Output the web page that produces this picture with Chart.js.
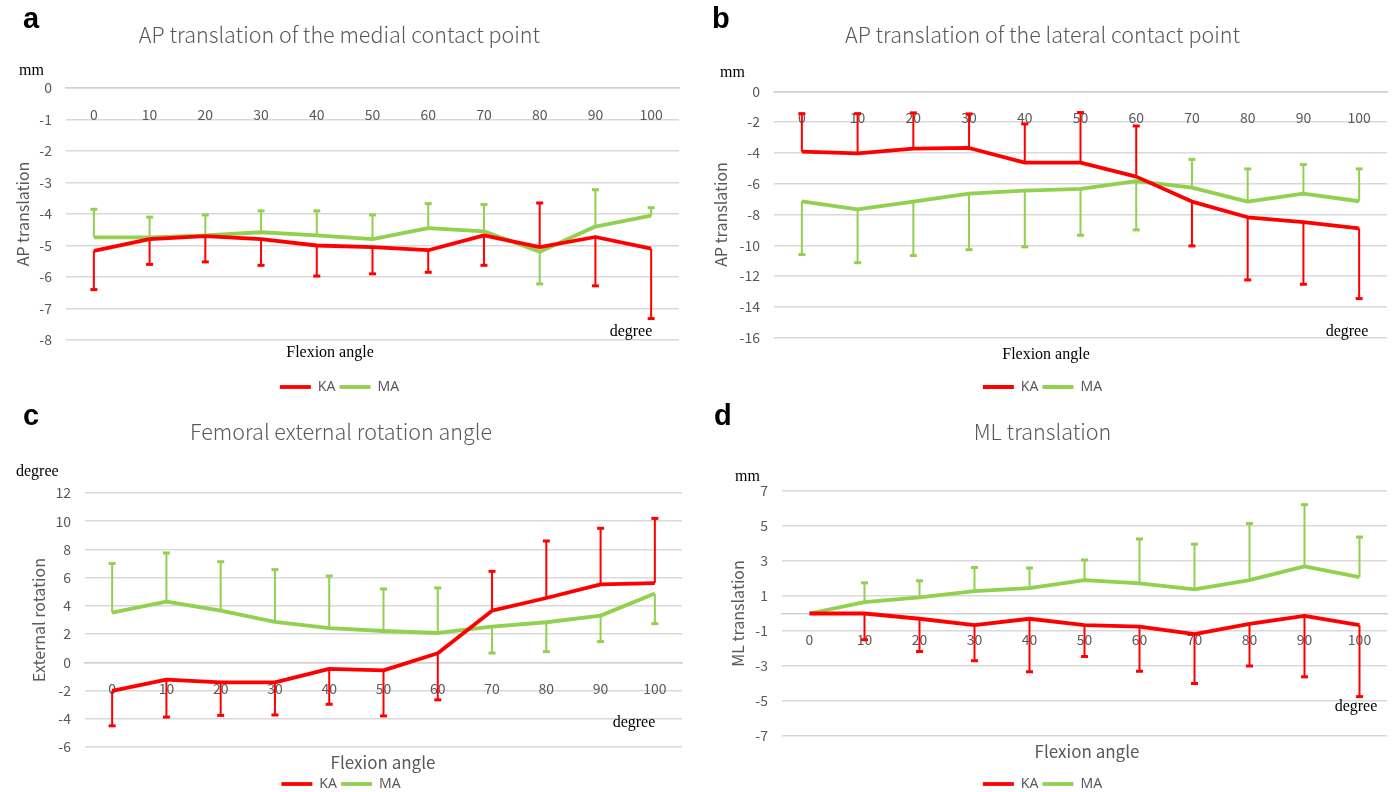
<!DOCTYPE html>
<html>
<head>
<meta charset="utf-8">
<script src="https://cdn.jsdelivr.net/npm/chart.js@4.4.0/dist/chart.umd.min.js"></script>
<style>
  html, body { margin: 0; padding: 0; background: #fff; }
  body { width: 1397px; height: 792px; position: relative; overflow: hidden; }
  canvas { position: absolute; }
</style>
</head>
<body>
<canvas id="chart-a" width="698" height="410" style="left:0;top:0"></canvas>
<canvas id="chart-b" width="698" height="410" style="left:698px;top:0"></canvas>
<canvas id="chart-c" width="698" height="410" style="left:0;top:396px"></canvas>
<canvas id="chart-d" width="698" height="410" style="left:698px;top:396px"></canvas>
<script>
// flexion angle categories (degree)
const flexionAngles = ['0', '10', '20', '30', '40', '50', '60', '70', '80', '90', '100'];

// a: AP translation of the medial contact point (mm), mean and SD bar end
const medialKA = [-5.17, -4.8, -4.7, -4.8, -5.0, -5.05, -5.15, -4.68, -5.05, -4.73, -5.1];
const medialKAErr = [-6.4, -5.6, -5.52, -5.63, -5.97, -5.9, -5.85, -5.63, -3.65, -6.28, -7.32];
const medialMA = [-4.74, -4.74, -4.68, -4.58, -4.68, -4.8, -4.45, -4.55, -5.2, -4.4, -4.05];
const medialMAErr = [-3.85, -4.1, -4.03, -3.9, -3.9, -4.03, -3.67, -3.7, -6.22, -3.23, -3.8];

// b: AP translation of the lateral contact point (mm)
const lateralKA = [-3.92, -4.03, -3.72, -3.68, -4.63, -4.63, -5.54, -7.16, -8.18, -8.5, -8.9];
const lateralKAErr = [-1.45, -1.45, -1.4, -1.47, -2.12, -1.38, -2.25, -10.04, -12.25, -12.53, -13.46];
const lateralMA = [-7.14, -7.66, -7.16, -6.64, -6.45, -6.34, -5.84, -6.25, -7.16, -6.64, -7.14];
const lateralMAErr = [-10.6, -11.13, -10.67, -10.28, -10.1, -9.35, -9.0, -4.42, -5.04, -4.76, -5.04];

// c: femoral external rotation angle (degree)
const rotationKA = [-2.03, -1.23, -1.42, -1.42, -0.47, -0.57, 0.64, 3.66, 4.56, 5.53, 5.62];
const rotationKAErr = [-4.5, -3.88, -3.76, -3.73, -2.97, -3.8, -2.66, 6.45, 8.6, 9.5, 10.2];
const rotationMA = [3.52, 4.3, 3.66, 2.86, 2.43, 2.22, 2.08, 2.53, 2.84, 3.31, 4.87];
const rotationMAErr = [7.0, 7.75, 7.13, 6.57, 6.12, 5.2, 5.27, 0.66, 0.76, 1.47, 2.74];

// d: ML translation (mm)
const mlKA = [0, 0, -0.3, -0.67, -0.3, -0.67, -0.75, -1.18, -0.59, -0.13, -0.67];
const mlKAErr = [0, -1.5, -2.17, -2.7, -3.33, -2.46, -3.3, -4.0, -3.0, -3.62, -4.75];
const mlMA = [0, 0.65, 0.92, 1.28, 1.45, 1.91, 1.72, 1.38, 1.91, 2.69, 2.08];
const mlMAErr = [0, 1.75, 1.87, 2.63, 2.6, 3.06, 4.26, 3.96, 5.14, 6.22, 4.37];

const KA_COLOR = '#ff0000';
const MA_COLOR = '#92d050';
const GREY = '#595959';
const SANS = "'Noto Sans CJK JP', 'Noto Sans', sans-serif";
const SERIF16 = "16px 'Liberation Serif', 'DejaVu Serif', serif";
const SANS17 = "17px 'Noto Sans CJK JP', 'Noto Sans', sans-serif";
const LETTER = "bold 29px 'Liberation Sans', Arial, sans-serif";

// SD bars: one-sided line from the mean to the bar end, with a cap
const errorBarPlugin = {
    id: 'errorBars',
    beforeDatasetsDraw(chart) {
        const ctx = chart.ctx;
        const yScale = chart.scales.y;
        chart.data.datasets.forEach((ds, i) => {
            const meta = chart.getDatasetMeta(i);
            if (!ds.errEnd || meta.hidden) return;
            ctx.save();
            ctx.strokeStyle = ds.borderColor;
            meta.data.forEach((pt, j) => {
                const end = ds.errEnd[j];
                if (end == null || end === ds.data[j]) return;
                const y0 = yScale.getPixelForValue(ds.data[j]);
                const y1 = yScale.getPixelForValue(end);
                ctx.lineWidth = 2;
                ctx.beginPath();
                ctx.moveTo(pt.x, y0);
                ctx.lineTo(pt.x, y1);
                ctx.stroke();
                ctx.lineWidth = 3;
                ctx.beginPath();
                ctx.moveTo(pt.x - 3.5, y1);
                ctx.lineTo(pt.x + 3.5, y1);
                ctx.stroke();
            });
            ctx.restore();
        });
    }
};

// panel letter, unit labels and axis notes
function makeNotes(items) {
    return {
        id: 'notes',
        afterDraw(chart) {
            const ctx = chart.ctx;
            items.forEach(n => {
                ctx.save();
                ctx.font = n.font;
                ctx.fillStyle = n.color || '#000';
                ctx.textAlign = n.align || 'center';
                ctx.textBaseline = n.baseline || 'middle';
                ctx.fillText(n.text, n.x, n.y);
                ctx.restore();
            });
        }
    };
}

function buildPanel(id, p) {
    const W = 698, H = 410;
    const legendTitleH = p.legendY - p.bottom - 11;
    const legendH = legendTitleH + 28;
    return new Chart(document.getElementById(id), {
        type: 'line',
        data: {
            labels: flexionAngles,
            datasets: [{
                label: 'KA',
                data: p.ka,
                errEnd: p.kaErr,
                borderColor: KA_COLOR,
                backgroundColor: KA_COLOR,
                borderWidth: 3.8,
                borderJoinStyle: 'round',
                pointRadius: 0,
                tension: 0
            }, {
                label: 'MA',
                data: p.ma,
                errEnd: p.maErr,
                borderColor: MA_COLOR,
                backgroundColor: MA_COLOR,
                borderWidth: 3.8,
                borderJoinStyle: 'round',
                pointRadius: 0,
                tension: 0
            }]
        },
        options: {
            responsive: false,
            animation: false,
            events: [],
            layout: { padding: { left: 0, top: 0, right: W - p.right, bottom: H - p.bottom - legendH } },
            scales: {
                x: {
                    type: 'category',
                    position: { y: 0 },
                    offset: true,
                    grid: { display: false },
                    border: { color: '#d0d0d0', width: 1.5 },
                    ticks: { color: GREY, font: { family: SANS, size: 14 }, padding: 10, maxRotation: 0, autoSkip: false }
                },
                y: {
                    min: p.min,
                    max: p.max,
                    ticks: { stepSize: p.step, color: GREY, font: { family: SANS, size: 14 }, padding: 14 },
                    grid: { color: '#d9d9d9', lineWidth: 1.5, drawTicks: false },
                    border: { display: false },
                    title: {
                        display: true,
                        text: p.yTitle,
                        color: GREY,
                        font: { family: SANS, size: 16 },
                        padding: { top: p.yTitleX - 9.6, bottom: 0 }
                    },
                    afterFit: s => { s.width = p.left; }
                }
            },
            plugins: {
                title: {
                    display: true,
                    text: p.title,
                    color: GREY,
                    font: { family: SANS, size: 21.5, weight: 300 },
                    padding: { top: p.titleY - 12.9, bottom: p.top - p.titleY - 12.9 }
                },
                legend: {
                    position: 'bottom',
                    labels: {
                        usePointStyle: true,
                        pointStyle: 'line',
                        pointStyleWidth: 31,
                        color: GREY,
                        font: { family: "'Noto Sans', sans-serif", size: 14 },
                        padding: 4
                    },
                    title: { display: true, text: '', font: { size: 10 }, padding: { top: legendTitleH - 12, bottom: 0 } }
                },
                tooltip: { enabled: false }
            }
        },
        plugins: [errorBarPlugin, makeNotes(p.notes)]
    });
}

buildPanel('chart-a', {
    title: 'AP translation of the medial contact point',
    yTitle: 'AP translation',
    ka: medialKA, kaErr: medialKAErr, ma: medialMA, maErr: medialMAErr,
    min: -8, max: 0, step: 1,
    left: 66, right: 679, top: 88, bottom: 340,
    titleY: 35, yTitleX: 22.6, legendY: 387,
    notes: [
        { text: 'a', x: 23, y: 28, font: LETTER, align: 'left', baseline: 'alphabetic' },
        { text: 'mm', x: 19, y: 71, font: SERIF16, align: 'left' },
        { text: 'degree', x: 631, y: 332, font: SERIF16 },
        { text: 'Flexion angle', x: 330, y: 353, font: SERIF16 }
    ]
});

buildPanel('chart-b', {
    title: 'AP translation of the lateral contact point',
    yTitle: 'AP translation',
    ka: lateralKA, kaErr: lateralKAErr, ma: lateralMA, maErr: lateralMAErr,
    min: -16, max: 0, step: 2,
    left: 76, right: 689, top: 91.3, bottom: 337.7,
    titleY: 35, yTitleX: 23, legendY: 387,
    notes: [
        { text: 'b', x: 14, y: 28, font: LETTER, align: 'left', baseline: 'alphabetic' },
        { text: 'mm', x: 22, y: 72.7, font: SERIF16, align: 'left' },
        { text: 'degree', x: 649, y: 332, font: SERIF16 },
        { text: 'Flexion angle', x: 348, y: 355, font: SERIF16 }
    ]
});

buildPanel('chart-c', {
    title: 'Femoral external rotation angle',
    yTitle: 'External rotation',
    ka: rotationKA, kaErr: rotationKAErr, ma: rotationMA, maErr: rotationMAErr,
    min: -6, max: 12, step: 2,
    left: 85, right: 682, top: 97, bottom: 351,
    titleY: 36, yTitleX: 39, legendY: 388,
    notes: [
        { text: 'c', x: 23, y: 29, font: LETTER, align: 'left', baseline: 'alphabetic' },
        { text: 'degree', x: 16, y: 76, font: SERIF16, align: 'left' },
        { text: 'degree', x: 634, y: 327, font: SERIF16 },
        { text: 'Flexion angle', x: 383, y: 367, font: SANS17, color: GREY }
    ]
});

buildPanel('chart-d', {
    title: 'ML translation',
    yTitle: 'ML translation',
    ka: mlKA, kaErr: mlKAErr, ma: mlMA, maErr: mlMAErr,
    min: -7, max: 7, step: 2,
    left: 84, right: 689, top: 95, bottom: 340,
    titleY: 36, yTitleX: 40, legendY: 388,
    notes: [
        { text: 'd', x: 16, y: 29, font: LETTER, align: 'left', baseline: 'alphabetic' },
        { text: 'mm', x: 37, y: 81, font: SERIF16, align: 'left' },
        { text: 'degree', x: 658, y: 311, font: SERIF16 },
        { text: 'Flexion angle', x: 389, y: 356, font: SANS17, color: GREY }
    ]
});
</script>
</body>
</html>
